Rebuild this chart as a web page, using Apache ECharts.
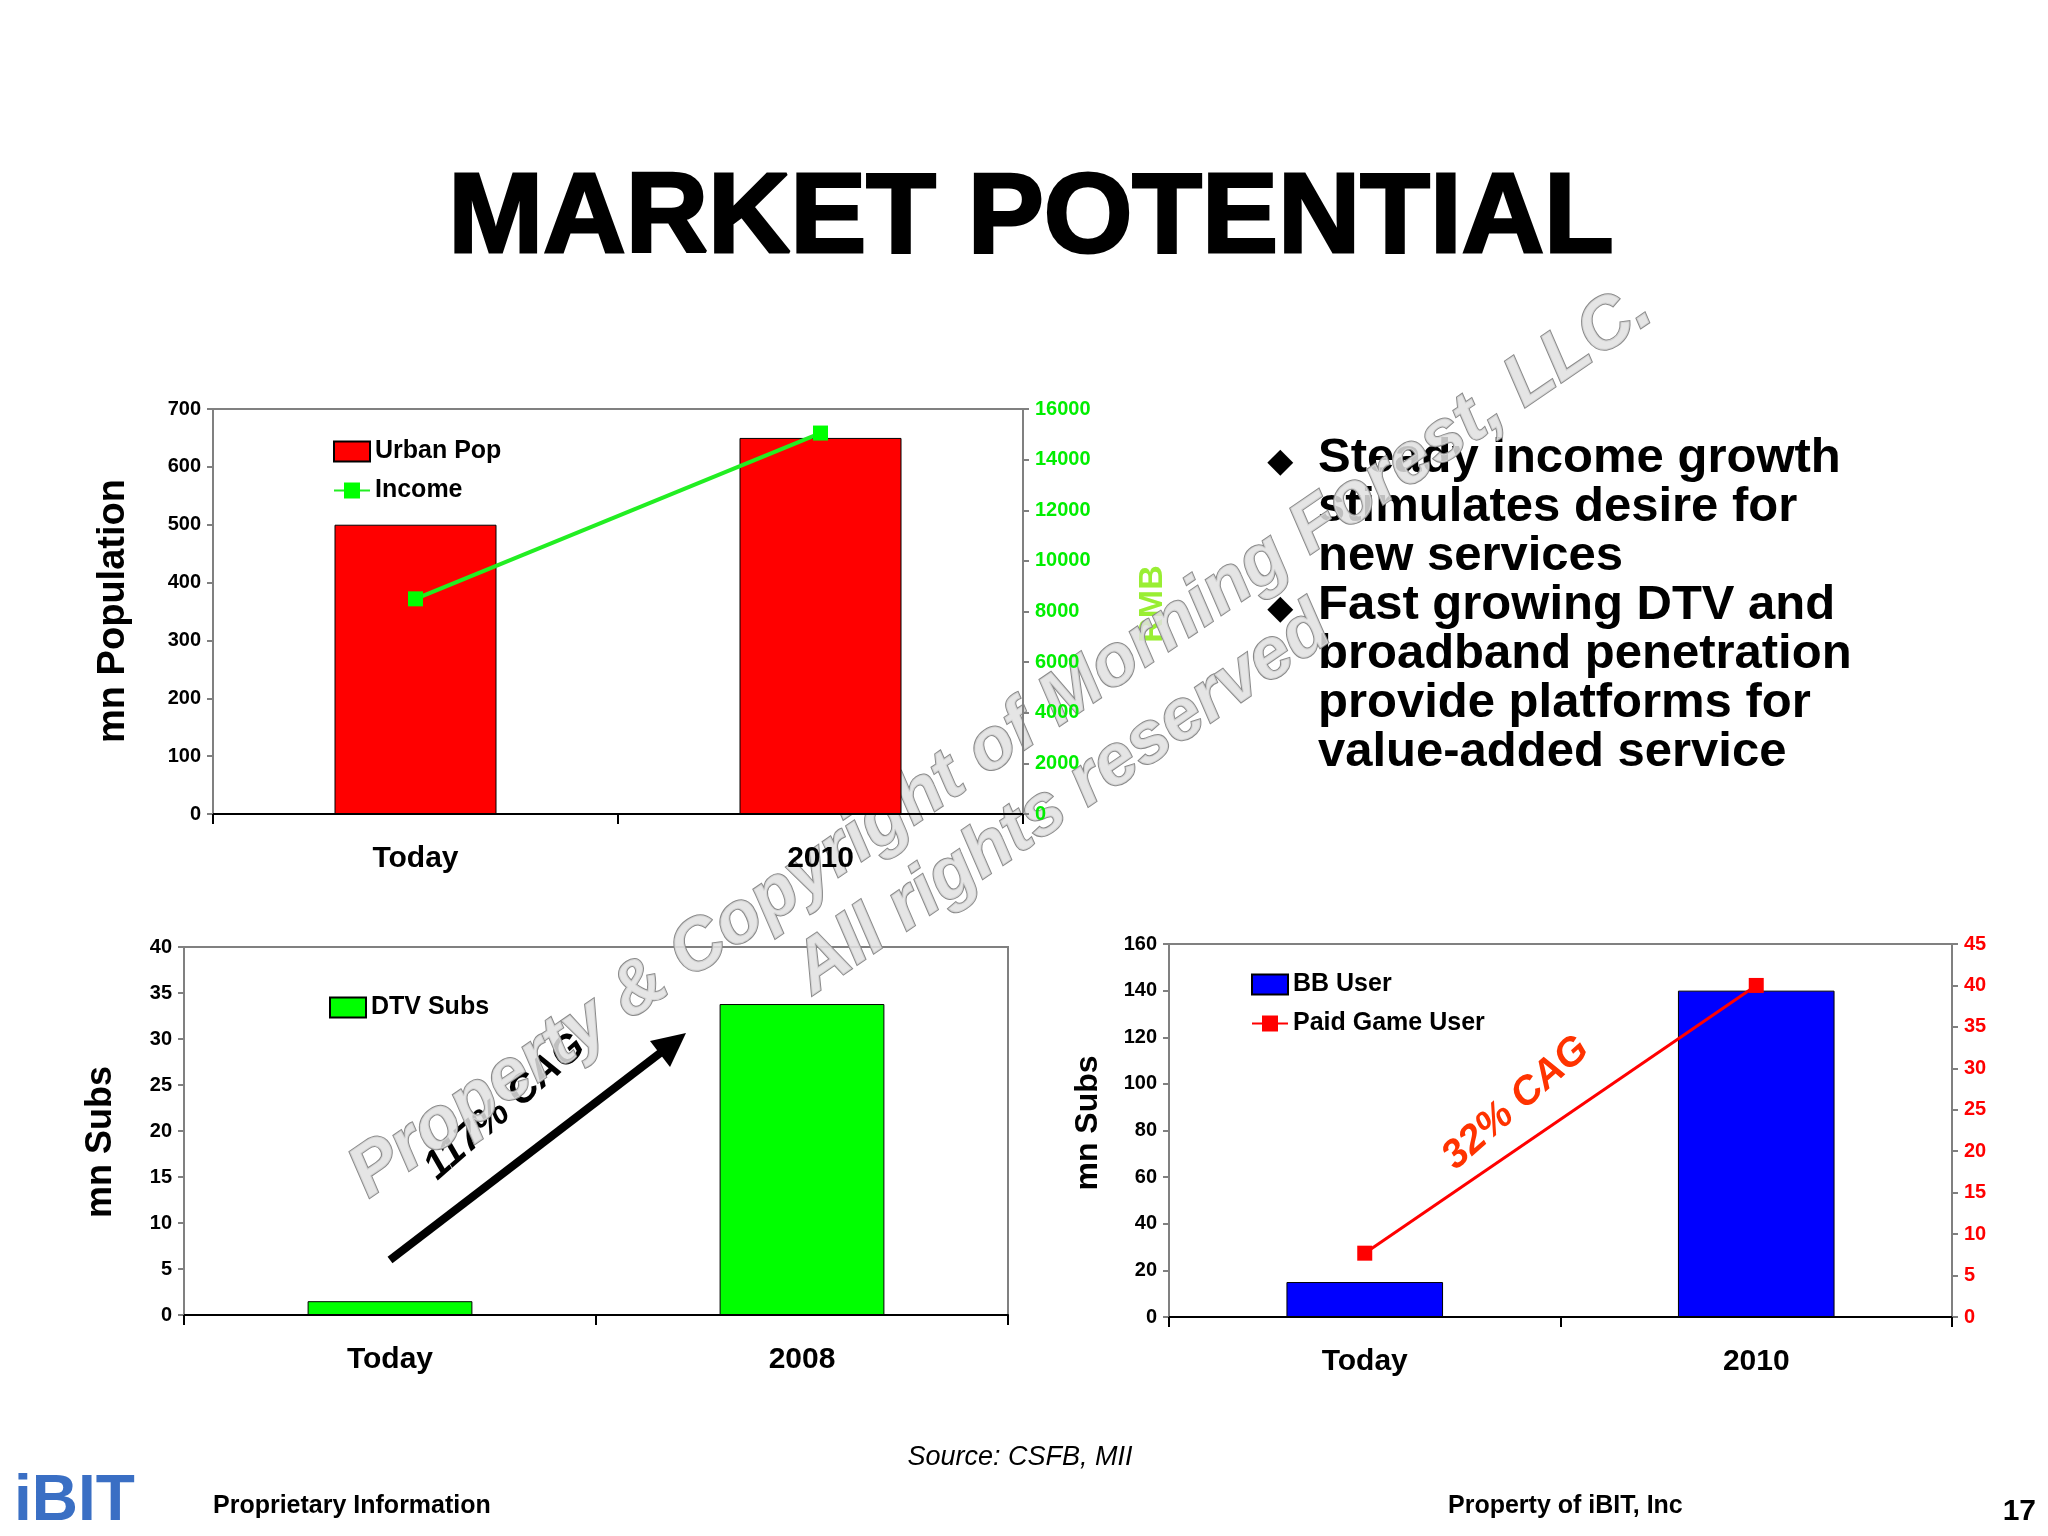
<!DOCTYPE html>
<html><head><meta charset="utf-8">
<script src="https://cdn.jsdelivr.net/npm/echarts@6/dist/echarts.min.js"></script>
<style>html,body{margin:0;background:#fff}#c{width:2048px;height:1536px}</style>
</head><body><div id="c"></div>
<script>
const popCats = ['Today', '2010'];
const urbanPop = [500, 650];
const income = [8500, 15050];
const dtvCats = ['Today', '2008'];
const dtvSubs = [1.5, 33.8];
const bbCats = ['Today', '2010'];
const bbUser = [15, 140];
const paidGame = [7.7, 40];

const chart = echarts.init(document.getElementById('c'));
const F = "'Liberation Sans', Arial, sans-serif";
const NF = "'Liberation Sans Narrow', 'Liberation Sans', Arial, sans-serif";

function valAxis(gi, max, step, color, pos) {
    return {
        type: 'value', gridIndex: gi, min: 0, max: max, interval: step, position: pos,
        splitLine: { show: false },
        axisLine: { show: true, lineStyle: { color: '#808080', width: 2 } },
        axisTick: { show: true, length: 6, lineStyle: { color: '#808080', width: 2 } },
        axisLabel: { color: color, fontFamily: NF, fontWeight: 'bold', fontSize: 20, margin: 12,
            formatter: (v) => String(v) }
    };
}
function catAxis(gi, data) {
    return {
        type: 'category', gridIndex: gi, data: data,
        axisLine: { lineStyle: { color: '#000', width: 2 } },
        axisTick: { show: true, length: 10, lineStyle: { color: '#000', width: 2 } },
        axisLabel: { color: '#000', fontFamily: F, fontWeight: 'bold', fontSize: 30, margin: 30 }
    };
}
function legendAt(left, top, names) {
    return {
        left: left, top: top, orient: 'vertical', itemGap: 14, itemWidth: 36, itemHeight: 20,
        data: names, textStyle: { fontFamily: F, fontWeight: 'bold', fontSize: 25, color: '#000' }
    };
}
function yName(text, x, y, size) {
    return { type: 'text', x: x, y: y, rotation: Math.PI / 2,
        style: { text: text, font: 'bold ' + size + 'px ' + F, fill: '#000', align: 'center', verticalAlign: 'middle' } };
}

chart.setOption({
    animation: false,
    grid: [
        { left: 213, top: 409, width: 810, height: 405, show: true, borderColor: '#808080', borderWidth: 2 },
        { left: 184, top: 947, width: 824, height: 368, show: true, borderColor: '#808080', borderWidth: 2 },
        { left: 1169, top: 944, width: 783, height: 373, show: true, borderColor: '#808080', borderWidth: 2 }
    ],
    legend: [
        legendAt(328, 434, [{ name: 'Urban Pop', icon: 'rect' }, 'Income']),
        legendAt(324, 990, [{ name: 'DTV Subs', icon: 'rect' }]),
        legendAt(1246, 967, [{ name: 'BB User', icon: 'rect' }, 'Paid Game User'])
    ],
    xAxis: [catAxis(0, popCats), catAxis(1, dtvCats), catAxis(2, bbCats)],
    yAxis: [
        valAxis(0, 700, 100, '#000', 'left'),
        valAxis(0, 16000, 2000, '#00ee00', 'right'),
        valAxis(1, 40, 5, '#000', 'left'),
        valAxis(2, 160, 20, '#000', 'left'),
        valAxis(2, 45, 5, '#ff0000', 'right')
    ],
    series: [
        { name: 'Urban Pop', type: 'bar', xAxisIndex: 0, yAxisIndex: 0, data: urbanPop, barWidth: '40%',
          itemStyle: { color: '#ff0000', borderColor: '#000', borderWidth: 1 } },
        { name: 'Income', type: 'line', xAxisIndex: 0, yAxisIndex: 1, data: income, symbol: 'rect', symbolSize: 15,
          lineStyle: { color: '#22ee22', width: 4 }, itemStyle: { color: '#00ff00' } },
        { name: 'DTV Subs', type: 'bar', xAxisIndex: 1, yAxisIndex: 2, data: dtvSubs, barWidth: '40%',
          itemStyle: { color: '#00ff00', borderColor: '#000', borderWidth: 1 } },
        { name: 'BB User', type: 'bar', xAxisIndex: 2, yAxisIndex: 3, data: bbUser, barWidth: '40%',
          itemStyle: { color: '#0000ff', borderColor: '#000', borderWidth: 1 } },
        { name: 'Paid Game User', type: 'line', xAxisIndex: 2, yAxisIndex: 4, data: paidGame, symbol: 'rect', symbolSize: 15,
          lineStyle: { color: '#ff0000', width: 3 }, itemStyle: { color: '#ff0000' } }
    ],
    graphic: [
        { type: 'text', x: 1031, y: 221, style: { text: 'MARKET POTENTIAL', font: '900 114px ' + F, fill: '#000', stroke: '#000', lineWidth: 3, align: 'center', verticalAlign: 'middle' } },
        yName('mn Population', 114, 611, 38),
        yName('mn Subs', 101, 1142, 36),
        yName('mn Subs', 1088, 1123, 32),
        { type: 'text', x: 1153, y: 604, rotation: Math.PI / 2,
          style: { text: 'RMB', font: 'bold 34px ' + F, fill: '#99ee33', align: 'center', verticalAlign: 'middle' } },
        { type: 'text', x: 1268, y: 438, style: { text: '◆\n\n\n◆', font: 'bold 32px ' + F, fill: '#000', lineHeight: 49 } },
        { type: 'text', x: 1318, y: 434, style: {
            text: 'Steady income growth\nstimulates desire for\nnew services\nFast growing DTV and\nbroadband penetration\nprovide platforms for\nvalue-added service',
            font: 'bold 49px ' + F, fill: '#000', lineHeight: 49 } },
        { type: 'line', shape: { x1: 390, y1: 1260, x2: 668, y2: 1047 }, style: { stroke: '#000', lineWidth: 8 } },
        { type: 'polygon', shape: { points: [[686, 1033], [650, 1041], [670, 1067]] }, style: { fill: '#000' } },
        { type: 'text', x: 505, y: 1107, rotation: 0.72,
          style: { text: '117% CAG', font: 'italic bold 40px ' + F, fill: '#000', align: 'center', verticalAlign: 'middle' } },
        { type: 'text', x: 1516, y: 1103, rotation: 0.72,
          style: { text: '32% CAG', font: 'italic bold 40px ' + F, fill: '#ff3300', align: 'center', verticalAlign: 'middle' } },
        { type: 'text', x: 1001, y: 742, rotation: 0.6,
          style: { text: 'Property & Copyright of Morning Forest, LLC.', font: 'italic bold 72px ' + F, fill: 'rgba(225,225,225,0.85)', stroke: '#8a8a8a', lineWidth: 2, align: 'center', verticalAlign: 'middle' } },
        { type: 'text', x: 1063, y: 800, rotation: 0.6,
          style: { text: 'All rights reserved', font: 'italic bold 72px ' + F, fill: 'rgba(225,225,225,0.85)', stroke: '#8a8a8a', lineWidth: 2, align: 'center', verticalAlign: 'middle' } },
        { type: 'text', x: 1020, y: 1457, style: { text: 'Source: CSFB, MII', font: 'italic 27px ' + F, fill: '#000', align: 'center', verticalAlign: 'middle' } },
        { type: 'text', x: 213, y: 1506, style: { text: 'Proprietary Information', font: 'bold 25px ' + F, fill: '#000', verticalAlign: 'middle' } },
        { type: 'text', x: 1448, y: 1506, style: { text: 'Property of iBIT, Inc', font: 'bold 25px ' + F, fill: '#000', verticalAlign: 'middle' } },
        { type: 'text', x: 2036, y: 1512, style: { text: '17', font: 'bold 30px ' + F, fill: '#000', align: 'right', verticalAlign: 'middle' } },
        { type: 'text', x: 14, y: 1502, style: { text: 'iBIT', font: 'bold 64px ' + NF, fill: '#3a6fc4', verticalAlign: 'middle' } }
    ]
});
</script></body></html>
